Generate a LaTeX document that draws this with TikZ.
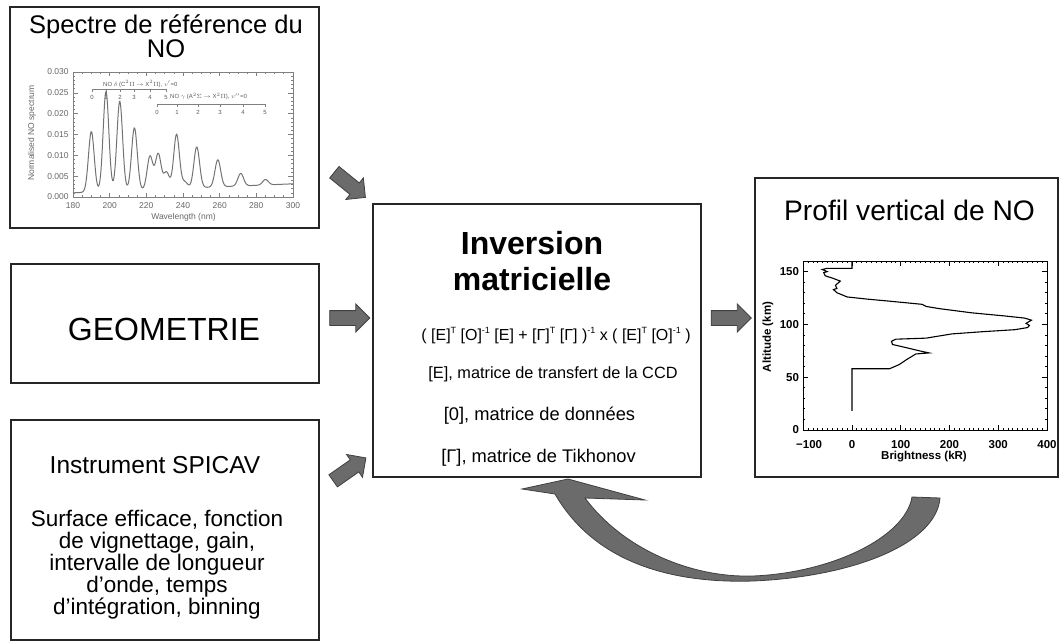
\documentclass[tikz,border=0pt]{standalone}
\usepackage{fontspec}
\setmainfont{Liberation Sans}
\usetikzlibrary{shapes.arrows,positioning}

\newcommand{\supr}[1]{\raisebox{0.42em}{\fontsize{9}{9}\selectfont #1}}

\tikzset{
  panel/.style={draw=black!85, line width=1.2pt, inner sep=0pt},
  blockarrow/.style={single arrow, draw=black!75, fill=black!58, line width=0.8pt,
    minimum height=40pt, inner sep=7pt, single arrow head extend=6.5pt},
  specline/.style={draw=black!50, line width=0.6pt},
  ticklab/.style={font=\fontsize{8.5}{9}\selectfont, text=black!60, inner sep=0pt},
  bandlab/.style={font=\fontsize{6}{7}\selectfont, text=black!65, inner sep=0pt},
  proflab/.style={font=\bfseries\fontsize{11.5}{12}\selectfont, inner sep=0pt},
}

\begin{document}
\begin{tikzpicture}[x=1pt, y=-1pt,
    declare function={pk(\u,\c,\a)=\a*exp(-min(((\u-\c)/2.2)^2,20));}]
\useasboundingbox (0,0) rectangle (1060,642);

% Boxes
\node[panel, minimum width=309pt, minimum height=221pt] (spec) at (164.5,117.5) {};
\node[panel, minimum width=308pt, minimum height=119pt] (geo) at (165,323.5) {};
\node[panel, minimum width=308pt, minimum height=220pt] (inst) at (165,530) {};
\node[panel, minimum width=328pt, minimum height=273pt] (inv) at (537,340.5) {};
\node[panel, minimum width=303pt, minimum height=299pt] (prof) at (906.5,327.5) {};

% Texts
\node[font=\fontsize{25.5}{21.5}\selectfont, align=center, anchor=north] (spectitle) at (166,11) {Spectre de référence du\\NO};
\node[font=\fontsize{32}{36}\selectfont, anchor=base] (geotxt) at (164,340) {GEOMETRIE};
\node[font=\fontsize{24.5}{26}\selectfont, anchor=base] (insttitle) at (155,473) {Instrument SPICAV};
\node[font=\fontsize{22.5}{21.8}\selectfont, align=center, anchor=north] (instbody) at (157,507)
  {Surface efficace, fonction\\de vignettage, gain,\\intervalle de longueur\\d'onde, temps\\d'intégration, binning};
\node[font=\bfseries\fontsize{32}{36}\selectfont, align=center, anchor=north] (invtitle) at (532,228) {Inversion\\matricielle};
\node[font=\fontsize{16}{20}\selectfont, anchor=base] (formula) at (556,340)
  {( [E]\supr{T} [O]\supr{-1} [E] + [Γ]\supr{T} [Γ] )\supr{-1} x ( [E]\supr{T} [O]\supr{-1} )};
\node[font=\fontsize{16.3}{20}\selectfont, anchor=base] (emat) at (553,378) {[E], matrice de transfert de la CCD};
\node[font=\fontsize{18.3}{20}\selectfont, anchor=base] (omat) at (539.5,420) {[0], matrice de données};
\node[font=\fontsize{18.3}{20}\selectfont, anchor=base] (gmat) at (538.5,462) {[Γ], matrice de Tikhonov};
\node[font=\fontsize{28.2}{30}\selectfont, anchor=base] (proftitle) at (909.5,220) {Profil vertical de NO};

% Block arrows
\node[blockarrow, rotate=-39] (ar1) at (347,182.5) {};
\node[blockarrow] (ar2) at (346,318) {};
\node[blockarrow, rotate=35] (ar3) at (346.5,471.5) {};
\node[blockarrow] (ar4) at (727.5,318) {};

% Curved feedback arrow
\filldraw[draw=black!75, fill=black!58, line width=0.8pt]
  (555,494) .. controls (600,572) and (690,583) .. (753,581)
  .. controls (850,577) and (936,545) .. (940,498) -- (912,497)
  .. controls (905,538) and (830,573) .. (753,576)
  .. controls (690,578) and (622,548) .. (585,498)
  -- (645,500) -- (568,479) -- (522,489) -- cycle;

% Reference spectrum
\begin{scope}[xshift=73pt, yshift=-197pt, x=1.833pt, y=4.167pt, specline]
  \draw (0,0) rectangle (120,30);
  \foreach \k in {0,5,...,120} {
    \draw (\k,0) -- ++(0,0.4);
    \draw (\k,30) -- ++(0,-0.4);
  }
  \foreach \k in {0,20,...,120} {
    \draw (\k,0) -- ++(0,0.9);
    \draw (\k,30) -- ++(0,-0.9);
    \pgfmathtruncatemacro{\wl}{180+\k}
    \node[ticklab, anchor=north] (wl\k) at (\k,-1.3) {\wl};
  }
  \foreach \v in {1,...,29} {
    \draw (0,\v) -- ++(1.3,0);
    \draw (120,\v) -- ++(-1.3,0);
  }
  \foreach \v/\t in {0/0.000,5/0.005,10/0.010,15/0.015,20/0.020,25/0.025,30/0.030} {
    \draw (0,\v) -- ++(2.6,0);
    \draw (120,\v) -- ++(-2.6,0);
    \node[ticklab, anchor=east] (nv\v) at (-2.2,\v) {\t};
  }
  \draw[line width=1pt, black!55] plot[domain=0:120, samples=400] (\x, {1.0 + 0.018*\x
    + pk(\x,10,14.5) + pk(\x,18,24) + pk(\x,25.5,21.5) + pk(\x,33.5,15)
    + pk(\x,42,8) + pk(\x,46.5,8.5) + pk(\x,51,4) + pk(\x,56.5,13)
    + pk(\x,61,1.5) + pk(\x,67.5,9.8) + pk(\x,79,6.5) + pk(\x,91.5,3) + pk(\x,105,1.3)});
\end{scope}
\node[ticklab, rotate=90] (speclab) at (32,133) {Normalised NO spectrum};
\node[ticklab] (wavelab) at (183.5,217) {Wavelength (nm)};

% Band heads
\draw[specline] (92,89) -- (166,89);
\foreach \b [count=\i from 0] in {92,106,120,134,150,166} {
  \draw[specline] (\b,89) -- (\b,92);
  \node[bandlab] (dl\i) at (\b,97) {\i};
}
\node[bandlab, anchor=base west] (deltatxt) at (103,86) {NO $\delta$ (C$^2\Pi$ $\rightarrow$ X$^2\Pi$), $v'$=0};
\draw[specline] (157,104) -- (266,104);
\foreach \b [count=\i from 0] in {157,177,198,220,243,265} {
  \draw[specline] (\b,104) -- (\b,107);
  \node[bandlab] (gl\i) at (\b,112) {\i};
}
\node[bandlab, anchor=base west] (gammatxt) at (170,99) {NO $\gamma$ (A$^2\Sigma$ $\rightarrow$ X$^2\Pi$), $v''$=0};

% NO vertical profile
\begin{scope}[xshift=852pt, yshift=-430pt, x=0.4875pt, y=1.056pt, line width=0.8pt]
  \draw (-100,0) rectangle (400,160);
  \foreach \k in {-100,-90,...,400} {
    \draw (\k,0) -- ++(0,1.8);
    \draw (\k,160) -- ++(0,-1.8);
  }
  \foreach \k in {-100,0,...,400} {
    \draw (\k,0) -- ++(0,4.5);
    \draw (\k,160) -- ++(0,-4.5);
  }
  \foreach \v in {0,10,...,160} {
    \draw (-100,\v) -- ++(4,0);
    \draw (400,\v) -- ++(-4,0);
  }
  \foreach \v in {0,50,...,150} {
    \draw (-100,\v) -- ++(10,0);
    \draw (400,\v) -- ++(-10,0);
    \node[proflab, anchor=east] (alt\v) at (-108,\v) {\v};
  }
  \foreach \k/\t [count=\i] in {-88/−100,0/0,100/100,200/200,300/300,400/400} {
    \node[proflab] (br\i) at (\k,-13.5) {\t};
  }
  \draw[line width=1.1pt] plot coordinates {(0,18) (0,58) (77,58) (97,62) (113,67) (131,72)
    (158,73) (138,75) (111,78) (83,81) (81,84) (90,86) (152,87) (205,91) (265,93)
    (334,95) (360,97) (364,99) (357,101) (368,104) (354,106) (313,108) (245,111)
    (178,115) (152,117) (144,119) (77,122) (30,124) (-10,126) (-31,130) (-38,133)
    (-31,134) (-34,137) (-24,141) (-41,144) (-55,146) (-58,149) (-51,150) (-61,152)
    (-52,153) (0,153) (0,160)};
\end{scope}
\node[proflab, rotate=90] (altlab) at (768,337) {Altitude (km)};
\node[proflab] (brlab) at (924,457) {Brightness (kR)};
\end{tikzpicture}
\end{document}
